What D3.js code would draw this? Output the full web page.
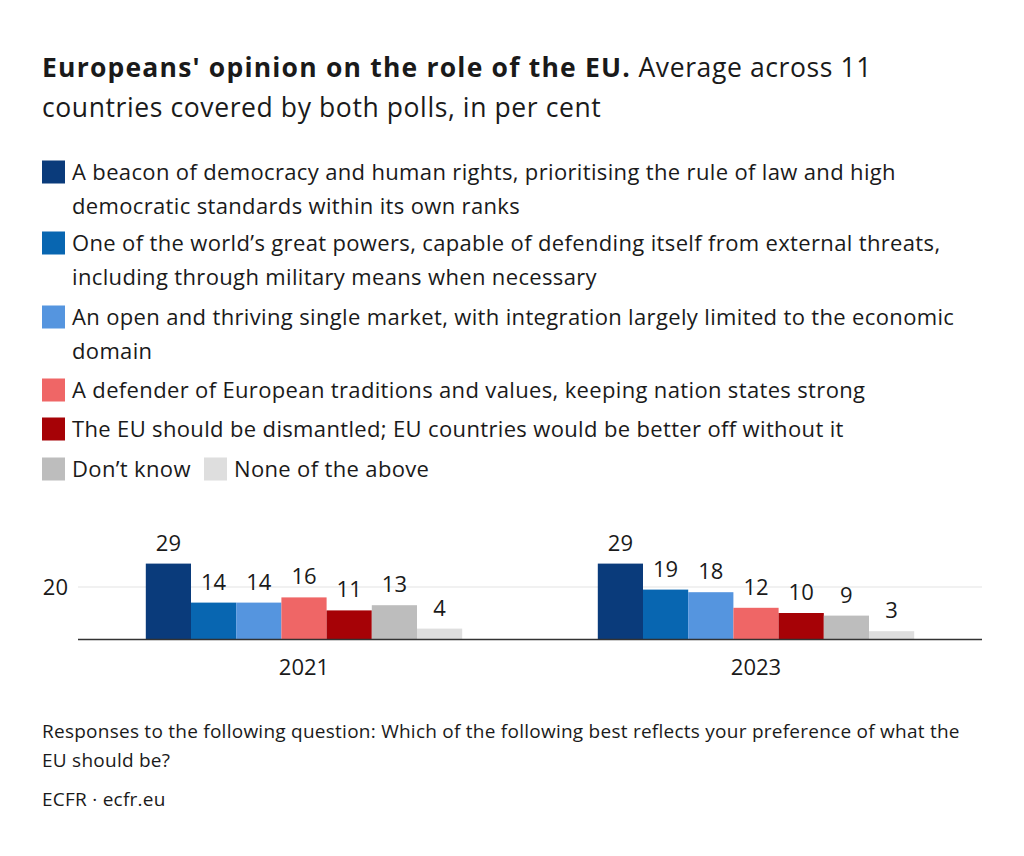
<!DOCTYPE html>
<html>
<head>
<meta charset="utf-8">
<script src="https://cdn.jsdelivr.net/npm/d3@7"></script>
<style>
  html, body { margin: 0; padding: 0; background: #fff; }
  svg text { font-family: "Open Sans", "Noto Sans", sans-serif; fill: #1a1a1a; }
</style>
</head>
<body>
<svg id="chart" width="1024" height="856"></svg>
<script>
const titleBold = "Europeans' opinion on the role of the EU.";
const titleRest = [" Average across 11", "countries covered by both polls, in per cent"];
const years = ["2021", "2023"];
const seriesNames = [
  "A beacon of democracy and human rights, prioritising the rule of law and high\ndemocratic standards within its own ranks",
  "One of the world\u2019s great powers, capable of defending itself from external threats,\nincluding through military means when necessary",
  "An open and thriving single market, with integration largely limited to the economic\ndomain",
  "A defender of European traditions and values, keeping nation states strong",
  "The EU should be dismantled; EU countries would be better off without it",
  "Don\u2019t know",
  "None of the above"
];
const seriesColors = ["#0a3b7b", "#0866b1", "#5595df", "#ef6666", "#a60206", "#bdbdbd", "#dedede"];
const values2021 = [29, 14, 14, 16, 11, 13, 4];
const values2023 = [29, 19, 18, 12, 10, 9, 3];
const yTicks = [20];
const noteLines = ["Responses to the following question: Which of the following best reflects your preference of what the", "EU should be?"];
const source = "ECFR \u00b7 ecfr.eu";

const svg = d3.select("#chart");

// Title
const t = svg.append("text").attr("x", 42).attr("y", 77).style("font-size", "26.5px");
t.append("tspan").style("font-weight", "700").style("letter-spacing", "1.2px").text(titleBold);
t.append("tspan").style("letter-spacing", "0.6px").text(titleRest[0]);
svg.append("text").attr("x", 42).attr("y", 117).style("font-size", "26.5px")
  .style("letter-spacing", "0.6px").text(titleRest[1]);

// Legend
const legendTop = [172, 243, 317, 390, 429, 469];
const legendItems = [
  {i: 0, x: 42, y: legendTop[0]},
  {i: 1, x: 42, y: legendTop[1]},
  {i: 2, x: 42, y: legendTop[2]},
  {i: 3, x: 42, y: legendTop[3]},
  {i: 4, x: 42, y: legendTop[4]},
  {i: 5, x: 42, y: legendTop[5]},
  {i: 6, x: 204, y: legendTop[5]}
];
const lg = svg.append("g");
legendItems.forEach(d => {
  lg.append("rect").attr("x", d.x).attr("y", d.y - 11.5).attr("width", 23).attr("height", 23)
    .attr("fill", seriesColors[d.i]);
  const lines = seriesNames[d.i].split("\n");
  const tx = lg.append("text").attr("x", d.x + 30).attr("y", d.y + 8)
    .style("font-size", "22px").style("letter-spacing", "0.35px");
  lines.forEach((l, k) => {
    tx.append("tspan").attr("x", d.x + 30).attr("dy", k === 0 ? 0 : 34).text(l);
  });
});

// Chart
const left = 78, right = 982, baseY = 639, pxPerUnit = 2.6;
const x0 = d3.scaleBand().domain(years).range([left, right]).paddingInner(0.3).paddingOuter(0.15);
const x1 = d3.scaleBand().domain(d3.range(seriesNames.length)).range([0, x0.bandwidth()]).padding(0);
const y = d3.scaleLinear().domain([0, 30]).range([baseY, baseY - 30 * pxPerUnit]);

const data = years.map((yr, gi) => ({year: yr, vals: gi === 0 ? values2021 : values2023}));

// gridlines
svg.append("g").selectAll("line").data(yTicks).join("line")
  .attr("x1", left).attr("x2", right)
  .attr("y1", d => y(d)).attr("y2", d => y(d))
  .attr("stroke", "#e3e3e3").attr("stroke-width", 1);
svg.append("g").selectAll("text").data(yTicks).join("text")
  .attr("x", 68).attr("y", d => y(d) + 8).attr("text-anchor", "end")
  .style("font-size", "22px").text(d => d);

const groups = svg.append("g").selectAll("g").data(data).join("g")
  .attr("transform", d => `translate(${x0(d.year)},0)`);
groups.selectAll("rect").data(d => d.vals).join("rect")
  .attr("x", (d, i) => x1(i)).attr("width", x1.bandwidth())
  .attr("y", d => y(d)).attr("height", d => y(0) - y(d))
  .attr("fill", (d, i) => seriesColors[i]);
groups.selectAll("text").data(d => d.vals).join("text")
  .attr("x", (d, i) => x1(i) + x1.bandwidth() / 2)
  .attr("y", d => y(d) - 13)
  .attr("text-anchor", "middle").style("font-size", "22px").text(d => d);

// baseline
svg.append("line").attr("x1", left).attr("x2", right).attr("y1", baseY + 0.5).attr("y2", baseY + 0.5)
  .attr("stroke", "#333").attr("stroke-width", 1.5);

// x axis labels
svg.append("g").selectAll("text").data(years).join("text")
  .attr("x", d => x0(d) + x0.bandwidth() / 2).attr("y", 675)
  .attr("text-anchor", "middle").style("font-size", "22px").text(d => d);

// notes
noteLines.forEach((l, k) => {
  svg.append("text").attr("x", 42).attr("y", 738 + k * 29).style("font-size", "19px")
    .style("letter-spacing", "0.25px").text(l);
});
svg.append("text").attr("x", 42).attr("y", 806).style("font-size", "19px")
  .style("letter-spacing", "0.25px").text(source);
</script>
</body>
</html>
